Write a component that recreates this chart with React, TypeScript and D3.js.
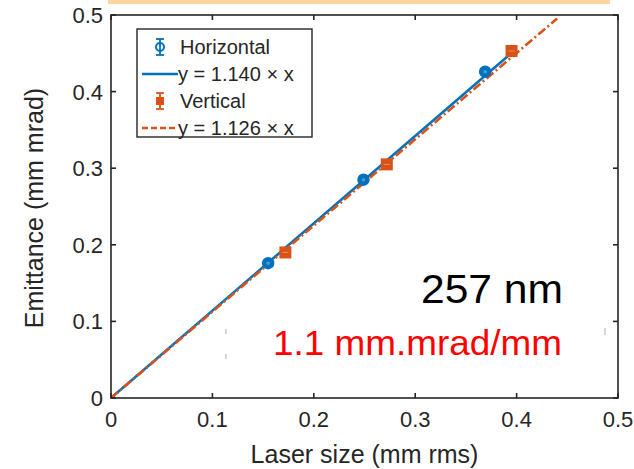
import React from "react";
import * as d3 from "d3";

const xTicks = [0, 0.1, 0.2, 0.3, 0.4, 0.5];
const yTicks = [0, 0.1, 0.2, 0.3, 0.4, 0.5];
const horizX = [0.155, 0.249, 0.369];
const horizY = [0.176, 0.285, 0.426];
const horizErr = [0.004, 0.004, 0.004];
const vertX = [0.172, 0.272, 0.395];
const vertY = [0.19, 0.305, 0.453];
const vertErr = [0.004, 0.004, 0.004];
const horizSlope = 1.14;
const vertSlope = 1.126;
const horizFitRange = [0, 0.393];
const vertFitRange = [0, 0.44];
const legendLabels = ["Horizontal", "y = 1.140 \u00d7 x", "Vertical", "y = 1.126 \u00d7 x"];
const xLabel = "Laser size (mm rms)";
const yLabel = "Emittance (mm mrad)";
const note1 = "257 nm";
const note2 = "1.1 mm.mrad/mm";

const W = 634, H = 469;
const L = 111, R = 618, T = 15, B = 398;
const BLUE = "#0072BD", ORANGE = "#D95319", AX = "#262626";
const FONT = "'Liberation Sans', Arial, Helvetica, sans-serif";

export default function App() {
  const x = d3.scaleLinear().domain([0, 0.5]).range([L, R]);
  const y = d3.scaleLinear().domain([0, 0.5]).range([B, T]);
  const line = d3.line<number>().x((d) => x(d[0])).y((d) => y(d[1]));
  const hFit = line(horizFitRange.map((v) => [v, v * horizSlope]) as any);
  const vFit = line(vertFitRange.map((v) => [v, v * vertSlope]) as any);
  const dash = "9,3,2,3";

  const legX = 137, legY = 29, legW = 175, legH = 108;
  const rowY = [47, 74, 101, 128];

  return (
    <svg width={W} height={H} style={{ position: "absolute", left: 0, top: 0, background: "#fff" }} fontFamily={FONT}>
      <rect x={0} y={0} width={W} height={H} fill="#fff" />
      <rect x={108} y={0} width={502} height={4} fill="#FDD59F" />
      {/* fits */}
      <path d={hFit || ""} stroke={BLUE} strokeWidth={2.6} fill="none" />
      <path d={vFit || ""} stroke={ORANGE} strokeWidth={2.6} fill="none" strokeDasharray={dash} />
      {/* error bars + markers */}
      {horizX.map((v, i) => (
        <g key={"h" + i}>
          <line x1={x(v)} x2={x(v)} y1={y(horizY[i] - horizErr[i])} y2={y(horizY[i] + horizErr[i])} stroke={BLUE} strokeWidth={1.5} />
          <circle cx={x(v)} cy={y(horizY[i])} r={5.5} fill={BLUE} stroke={BLUE} strokeWidth={1.5} />
          <circle cx={x(v)} cy={y(horizY[i])} r={1.8} fill="#4a9ad6" />
        </g>
      ))}
      {vertX.map((v, i) => (
        <g key={"v" + i}>
          <line x1={x(v)} x2={x(v)} y1={y(vertY[i] - vertErr[i])} y2={y(vertY[i] + vertErr[i])} stroke={ORANGE} strokeWidth={1.5} />
          <rect x={x(v) - 6} y={y(vertY[i]) - 6} width={12} height={12} fill={ORANGE} />
          <line x1={x(v) - 3} x2={x(v) + 3} y1={y(vertY[i])} y2={y(vertY[i])} stroke="#e98a60" strokeWidth={1} />
        </g>
      ))}
      {/* axes box */}
      <rect x={L} y={T} width={R - L} height={B - T} fill="none" stroke={AX} strokeWidth={1.6} />
      {xTicks.map((t) => (
        <g key={"xt" + t}>
          <line x1={x(t)} x2={x(t)} y1={B} y2={B - 5} stroke={AX} strokeWidth={1.6} />
          <line x1={x(t)} x2={x(t)} y1={T} y2={T + 5} stroke={AX} strokeWidth={1.6} />
          <text x={x(t)} y={427} fontSize={22} textAnchor="middle" fill={AX}>{t === 0 ? "0" : t.toString()}</text>
        </g>
      ))}
      {yTicks.map((t) => (
        <g key={"yt" + t}>
          <line x1={L} x2={L + 5} y1={y(t)} y2={y(t)} stroke={AX} strokeWidth={1.6} />
          <line x1={R} x2={R - 5} y1={y(t)} y2={y(t)} stroke={AX} strokeWidth={1.6} />
          <text x={103} y={y(t) + 8} fontSize={22} textAnchor="end" fill={AX}>{t === 0 ? "0" : t.toString()}</text>
        </g>
      ))}
      <text x={(L + R) / 2} y={463} fontSize={25} textAnchor="middle" fill={AX}>{xLabel}</text>
      <text transform={`translate(43, ${208}) rotate(-90)`} fontSize={25} textAnchor="middle" fill={AX}>{yLabel}</text>
      {/* legend */}
      <rect x={legX} y={legY} width={legW} height={legH} fill="#fff" stroke={AX} strokeWidth={1.4} />
      <g>
        <line x1={160} x2={160} y1={rowY[0] - 8} y2={rowY[0] + 8} stroke={BLUE} strokeWidth={1.8} />
        <line x1={156} x2={164} y1={rowY[0] - 8} y2={rowY[0] - 8} stroke={BLUE} strokeWidth={1.8} />
        <line x1={156} x2={164} y1={rowY[0] + 8} y2={rowY[0] + 8} stroke={BLUE} strokeWidth={1.8} />
        <circle cx={160} cy={rowY[0]} r={4} fill="none" stroke={BLUE} strokeWidth={2} />
        <text x={180} y={rowY[0] + 7} fontSize={20} fill={AX}>{legendLabels[0]}</text>
        <line x1={142} x2={178} y1={rowY[1]} y2={rowY[1]} stroke={BLUE} strokeWidth={2.4} />
        <text x={178} y={rowY[1] + 7} fontSize={20} fill={AX}>{legendLabels[1]}</text>
        <line x1={160} x2={160} y1={rowY[2] - 8} y2={rowY[2] + 8} stroke={ORANGE} strokeWidth={1.8} />
        <line x1={156} x2={164} y1={rowY[2] - 8} y2={rowY[2] - 8} stroke={ORANGE} strokeWidth={1.8} />
        <line x1={156} x2={164} y1={rowY[2] + 8} y2={rowY[2] + 8} stroke={ORANGE} strokeWidth={1.8} />
        <rect x={156} y={rowY[2] - 4} width={8} height={8} fill={ORANGE} />
        <text x={180} y={rowY[2] + 7} fontSize={20} fill={AX}>{legendLabels[2]}</text>
        <line x1={142} x2={178} y1={rowY[3]} y2={rowY[3]} stroke={ORANGE} strokeWidth={2.4} strokeDasharray="6,3" />
        <text x={178} y={rowY[3] + 7} fontSize={20} fill={AX}>{legendLabels[3]}</text>
      </g>
      {/* annotations */}
      <line x1={226} x2={226} y1={329} y2={334} stroke="#999" strokeWidth={0.8} />
      <line x1={226} x2={226} y1={354} y2={359} stroke="#999" strokeWidth={0.8} />
      <line x1={605} x2={605} y1={328} y2={335} stroke="#999" strokeWidth={0.8} />
      <text x={563} y={303} fontSize={40} textAnchor="end" fill="#000" textLength={142} lengthAdjust="spacingAndGlyphs">{note1}</text>
      <text x={562} y={355} fontSize={35} textAnchor="end" fill="#FF0000" textLength={289} lengthAdjust="spacingAndGlyphs">{note2}</text>
    </svg>
  );
}
